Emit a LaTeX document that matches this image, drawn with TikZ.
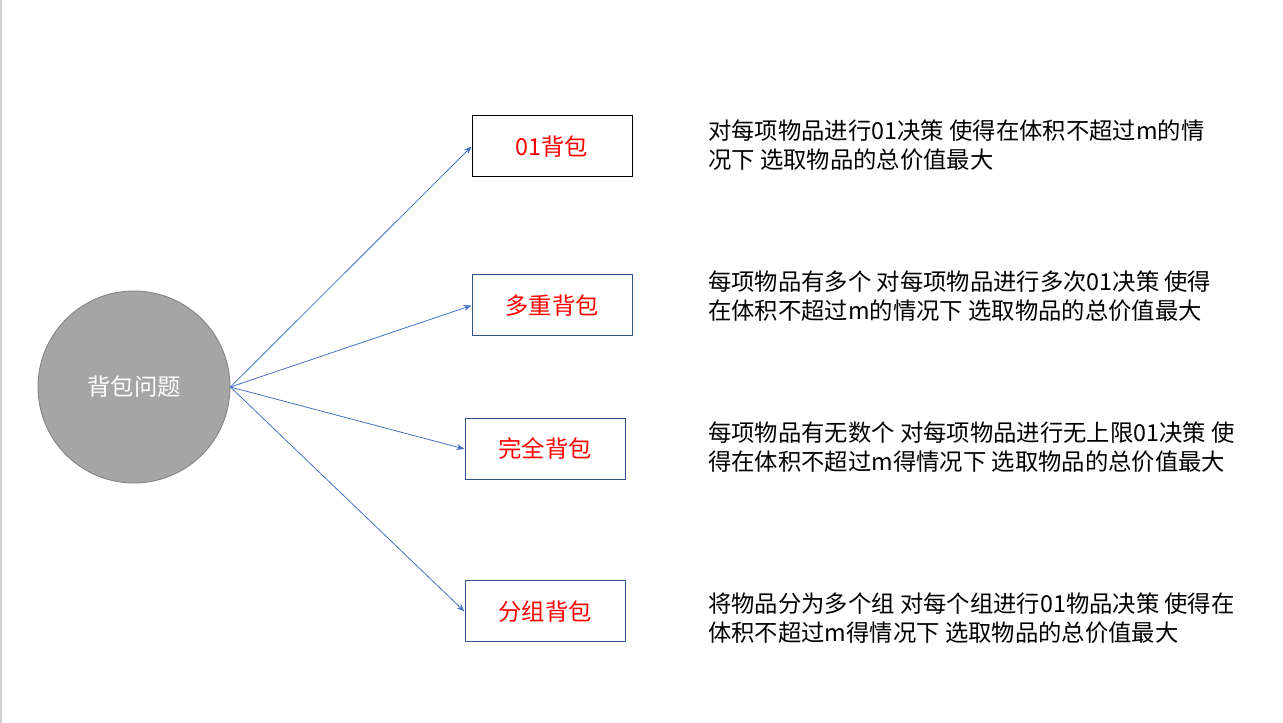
\documentclass[tikz,border=0pt]{standalone}
\usepackage{fontspec}
\setmainfont{Noto Sans CJK SC}
\usepackage{xcolor}
\usetikzlibrary{arrows.meta}
\definecolor{rootfill}{HTML}{A5A5A5}
\definecolor{rootedge}{HTML}{7F7F7F}
\definecolor{boxblue}{HTML}{2F528F}
\definecolor{linkblue}{HTML}{4472C4}
\definecolor{pagegray}{HTML}{D0D0D0}

\begin{document}
\begin{tikzpicture}[
  x=0.75pt, y=-0.75pt,
  root/.style={circle, fill=rootfill, draw=rootedge, line width=0.6pt,
               minimum size=144pt, inner sep=0pt, text=white,
               font=\fontsize{17.5}{21}\selectfont},
  box/.style={draw=boxblue, line width=0.75pt, minimum width=120pt,
              minimum height=45.75pt, inner sep=0pt, text=red,
              font=\fontsize{17.5}{21}\selectfont},
  desc/.style={anchor=west, align=left, inner sep=0pt,
               font=\fontsize{17.5}{21.75}\selectfont},
  arrow/.style={-{Stealth[length=6pt, width=4.5pt]}, line width=0.6pt, color=linkblue}
]
\useasboundingbox (0,0) rectangle (1283,723);
\draw[pagegray, line width=1.5pt] (1,0) -- (1,723);

\node[root] (knap) at (134,387) {背包问题};

\node[box, draw=black] (zeroone) at (552,146.5) {01背包};
\node[box] (multi) at (552,305.5) {多重背包};
\node[box] (complete) at (545,449) {完全背包};
\node[box] (group) at (545,611.5) {分组背包};

\draw[arrow] (knap.east) -- (zeroone.west);
\draw[arrow] (knap.east) -- (multi.west);
\draw[arrow] (knap.east) -- (complete.west);
\draw[arrow] (knap.east) -- (group.west);

\node[desc] (d1) at (708,145.5) {对每项物品进行01决策 使得在体积不超过m的情\\况下 选取物品的总价值最大};
\node[desc] (d2) at (708,296) {每项物品有多个 对每项物品进行多次01决策 使得\\在体积不超过m的情况下 选取物品的总价值最大};
\node[desc] (d3) at (708,447) {每项物品有无数个 对每项物品进行无上限01决策 使\\得在体积不超过m得情况下 选取物品的总价值最大};
\node[desc] (d4) at (708,618.5) {将物品分为多个组 对每个组进行01物品决策 使得在\\体积不超过m得情况下 选取物品的总价值最大};
\end{tikzpicture}
\end{document}
